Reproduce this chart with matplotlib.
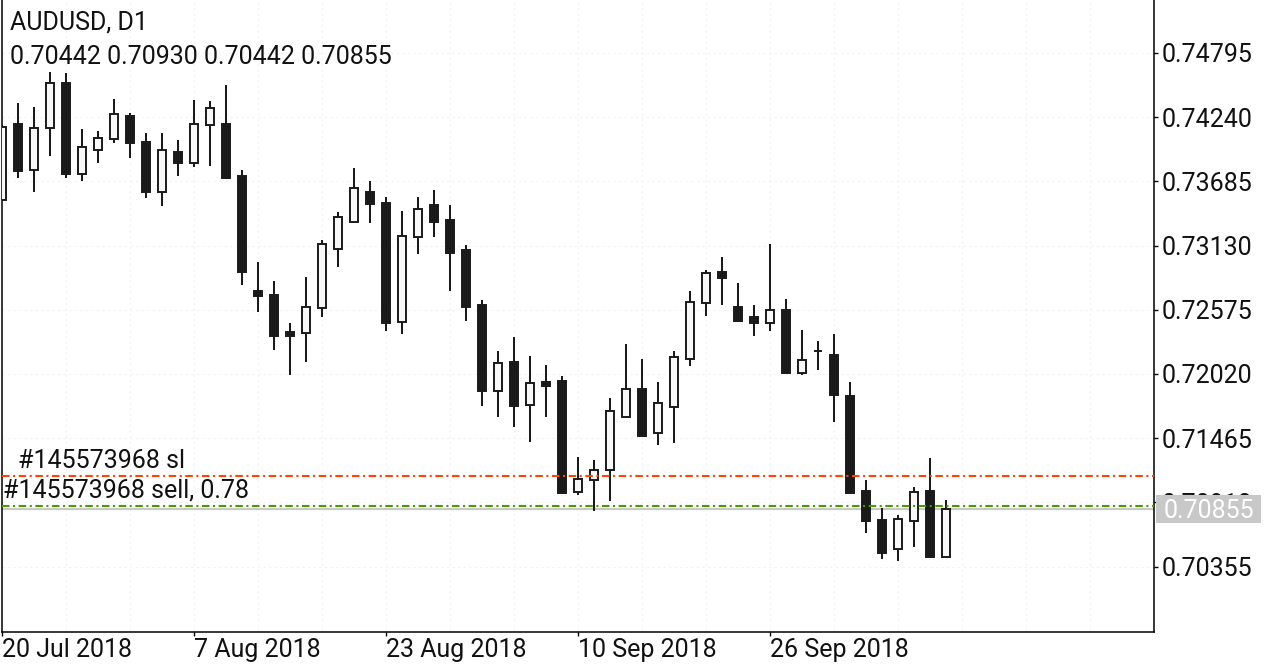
import matplotlib
matplotlib.use("Agg")
import matplotlib.pyplot as plt
from matplotlib.patches import Rectangle
from matplotlib.transforms import IdentityTransform
import numpy as np
import pandas as pd

# ---------------- data ----------------
symbol_title = "AUDUSD, D1"
start_date = "2018-07-20"

opens = [0.73524, 0.74179, 0.73784, 0.74144, 0.74533, 0.73749, 0.73956, 0.74049, 0.74250, 0.74026,
         0.73591, 0.73937, 0.73842, 0.74173, 0.74179, 0.73732, 0.72738, 0.72703, 0.72386, 0.72372,
         0.72588, 0.73098, 0.73337, 0.73591, 0.73496, 0.72467, 0.73202, 0.73478, 0.73349, 0.73092,
         0.72614, 0.71870, 0.72121, 0.71749, 0.71951, 0.71957, 0.70997, 0.71101, 0.71190, 0.71646,
         0.71888, 0.71507, 0.71732, 0.72147, 0.72631, 0.72899, 0.72597, 0.72510, 0.72458, 0.72571,
         0.72031, 0.72221, 0.72182, 0.71830, 0.71006, 0.70755, 0.70505, 0.70747, 0.71006, 0.70442]
highs = [0.74173, 0.74360, 0.74326, 0.74628, 0.74620, 0.74135, 0.74121, 0.74395, 0.74274, 0.74101,
         0.74101, 0.74043, 0.74389, 0.74380, 0.74518, 0.73784, 0.72986, 0.72824, 0.72458, 0.72856,
         0.73178, 0.73418, 0.73803, 0.73688, 0.73548, 0.73429, 0.73553, 0.73611, 0.73481, 0.73135,
         0.72660, 0.72219, 0.72340, 0.72176, 0.72098, 0.72003, 0.71302, 0.71276, 0.71810, 0.72279,
         0.72147, 0.71948, 0.72219, 0.72738, 0.72919, 0.73031, 0.72807, 0.72617, 0.73144, 0.72668,
         0.72400, 0.72305, 0.72366, 0.71951, 0.71104, 0.70859, 0.70801, 0.71043, 0.71294, 0.70930]
lows = [0.73516, 0.73712, 0.73591, 0.73907, 0.73712, 0.73691, 0.73847, 0.74020, 0.73890, 0.73544,
        0.73475, 0.73734, 0.73807, 0.73818, 0.73705, 0.72789, 0.72559, 0.72227, 0.72011, 0.72126,
        0.72515, 0.72948, 0.73323, 0.73328, 0.72394, 0.72366, 0.73060, 0.73207, 0.72740, 0.72481,
        0.71746, 0.71651, 0.71564, 0.71435, 0.71651, 0.70980, 0.70974, 0.70838, 0.70925, 0.71646,
        0.71487, 0.71409, 0.71426, 0.72092, 0.72524, 0.72617, 0.72481, 0.72351, 0.72394, 0.72031,
        0.72011, 0.72055, 0.71605, 0.70990, 0.70648, 0.70418, 0.70401, 0.70527, 0.70430, 0.70442]
closes = [0.74155, 0.73778, 0.74149, 0.74533, 0.73746, 0.73985, 0.74063, 0.74265, 0.74014, 0.73596,
          0.73954, 0.73847, 0.74179, 0.74317, 0.73712, 0.72904, 0.72697, 0.72351, 0.72351, 0.72597,
          0.73141, 0.73375, 0.73631, 0.73492, 0.72463, 0.73216, 0.73449, 0.73337, 0.73069, 0.72602,
          0.71876, 0.72112, 0.71746, 0.71940, 0.71919, 0.70989, 0.71115, 0.71193, 0.71698, 0.71888,
          0.71487, 0.71767, 0.72170, 0.72640, 0.72891, 0.72853, 0.72481, 0.72463, 0.72571, 0.72031,
          0.72138, 0.72221, 0.71841, 0.70994, 0.70752, 0.70470, 0.70764, 0.71002, 0.70440, 0.70855]

price_ticks = [0.74795, 0.74240, 0.73685, 0.73130, 0.72575, 0.72020, 0.71465, 0.70910, 0.70355]
date_tick_labels = ["20 Jul 2018", "7 Aug 2018", "23 Aug 2018", "10 Sep 2018", "26 Sep 2018"]

sl_price = 0.71138
sl_label = "#145573968 sl"
entry_price = 0.70879
entry_label = "#145573968 sell, 0.78"
bid_price = closes[-1]

# ---------------- figure ----------------
FONT = ["Roboto", "DejaVu Sans"]
plt.rcParams["font.family"] = FONT
FS = 18

W, H = 1280, 667
fig = plt.figure(figsize=(W / 100, H / 100), dpi=100)
fig.patch.set_facecolor("white")
ax_left, ax_right, ax_bottom = 2 / W, 1154 / W, (H - 631.5) / H
ax = fig.add_axes([ax_left, ax_bottom, ax_right - ax_left, 1.0 - ax_bottom])

dates = pd.bdate_range(start_date, periods=len(opens))
x = np.arange(len(opens))
o = np.array(opens); h = np.array(highs); l = np.array(lows); c = np.array(closes)
up = c >= o

# limits
ax.set_xlim(0, (1154 - 2) / 16)
ax.set_ylim(0.69794, 0.75253)

# grid (very faint)
for k in np.arange(0, 73, 4):
    ax.axvline(k, color="#f2f2f2", lw=0.8, ls=(0, (2, 3)), zorder=0)
for p in price_ticks:
    ax.axhline(p, color="#f2f2f2", lw=0.8, ls=(0, (2, 3)), zorder=0)

# wicks
ax.vlines(x, l, h, color="#1a1a1a", lw=1.45, zorder=2)
# bodies
body_w = 0.46
bottoms = np.minimum(o, c)
heights = np.abs(c - o)
ax.bar(x[up], heights[up], bottom=bottoms[up], width=body_w, color="#f8f8f8",
       edgecolor="#1a1a1a", linewidth=1.4, zorder=3)
ax.bar(x[~up], heights[~up], bottom=bottoms[~up], width=body_w, color="#1a1a1a",
       edgecolor="#1a1a1a", linewidth=1.4, zorder=3)

# order lines
dd = (0, (3.6, 1.7, 1.0, 1.7))
ax.axhline(bid_price, color="#c8c8c8", lw=1.6, zorder=1)
ax.axhline(sl_price, color="#ff4500", lw=1.5, ls=dd, zorder=4)
ax.axhline(entry_price, color="#4c9a00", lw=1.5, ls=dd, zorder=4)

ax.annotate(sl_label, xy=(0, sl_price), xycoords=("axes fraction", "data"),
            xytext=(11.5, 2.5), textcoords="offset points", fontsize=FS,
            ha="left", va="bottom", color="#111111", zorder=5)
ax.annotate(entry_label, xy=(0, entry_price), xycoords=("axes fraction", "data"),
            xytext=(1.0, 2.5), textcoords="offset points", fontsize=FS,
            ha="left", va="bottom", color="#111111", zorder=5)

# axes styling
for s in ["left", "bottom", "right"]:
    ax.spines[s].set_color("black")
    ax.spines[s].set_linewidth(1.1)
ax.spines["top"].set_visible(False)

ax.yaxis.tick_right()
ax.set_yticks(price_ticks)
ax.set_yticklabels([f"{p:.5f}" for p in price_ticks], fontsize=FS, color="#111111")
ax.tick_params(axis="y", direction="out", length=3, width=1, pad=2.5)

tick_idx = [int(np.where(dates == pd.to_datetime(lbl, format="%d %b %Y"))[0][0])
            for lbl in date_tick_labels]
ax.set_xticks(tick_idx)
ax.set_xticklabels(date_tick_labels, fontsize=FS, color="#111111", ha="left")
ax.tick_params(axis="x", direction="out", length=3, width=1, pad=1.5)

# bid price label (grey box drawn over the hidden tick label)
bid_y_disp = ax.transData.transform((0, bid_price))[1]
box_h = 27.7
rect = Rectangle((1156, bid_y_disp - box_h / 2), 105, box_h, transform=IdentityTransform(),
                 facecolor="#c8c8c8", edgecolor="none", zorder=20, clip_on=False)
fig.add_artist(rect)
fig.text(1208.5 / W, bid_y_disp / H, f"{bid_price:.5f}", fontsize=FS, color="white",
         ha="center", va="center_baseline", zorder=21)

# header
fig.text(10 / W, 1 - 29.5 / H, symbol_title, fontsize=FS, color="#111111", va="baseline")
fig.text(10 / W, 1 - 64.5 / H,
         f"{opens[-1]:.5f} {highs[-1]:.5f} {lows[-1]:.5f} {closes[-1]:.5f}",
         fontsize=FS, color="#111111", va="baseline")

fig.savefig("out.png", dpi=100)
